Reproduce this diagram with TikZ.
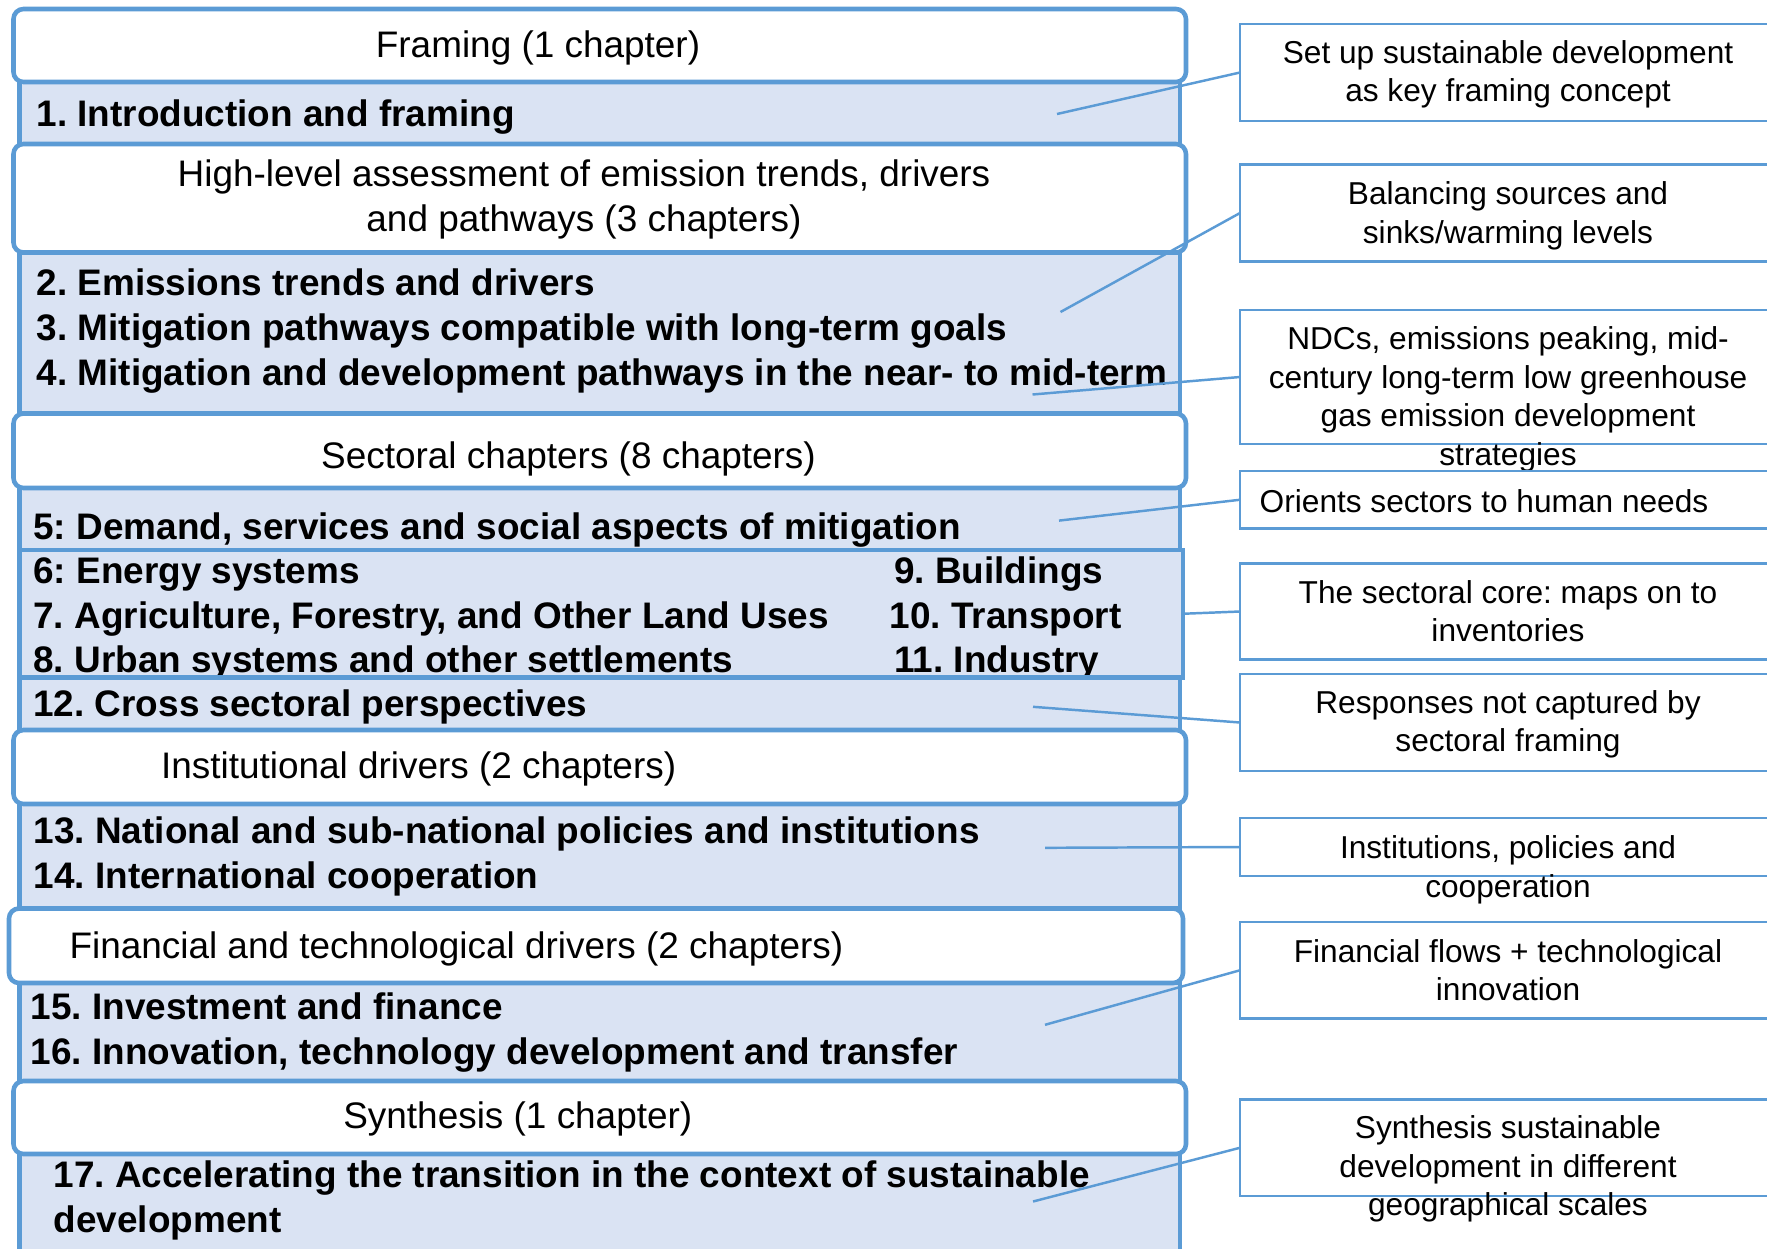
\documentclass[tikz,border=0pt]{standalone}
\usepackage{fontspec}
\setmainfont{Liberation Sans}
\usetikzlibrary{fit}
\definecolor{chapblue}{RGB}{91,155,213}
\definecolor{chapfill}{RGB}{218,227,243}

\begin{document}
\frenchspacing
\begin{tikzpicture}[x=0.01cm,y=-0.01cm,
  header/.style={draw=chapblue, line width=1.3pt, fill=white, rounded corners=1mm, inner sep=0pt, outer sep=0pt},
  band/.style={draw=chapblue, line width=1.2pt, fill=chapfill, inner sep=0pt, outer sep=0pt},
  note/.style={draw=chapblue, line width=0.6pt, fill=white, inner sep=0pt, outer sep=0pt},
  headtext/.style={font=\fontsize{10.5}{12.6}\selectfont, inner sep=0pt, anchor=base},
  chaptext/.style={font=\fontsize{10.5}{12.6}\selectfont\bfseries, inner sep=0pt, anchor=base west},
  notetext/.style={font=\fontsize{9}{10.8}\selectfont, inner sep=0pt, anchor=base},
  link/.style={draw=chapblue, line width=0.7pt}]

\useasboundingbox (0,0) rectangle (1767,1248);
\clip (0,0) rectangle (1767,1248);

% ---------- chapter bands ----------
\node[band, fit={(19.5,82) (1180,145)}] (b1) {};
\node[chaptext] (t1) at (36,126.5) {1. Introduction and framing};

\node[band, fit={(19.5,252.5) (1180,413.5)}] (b2) {};
\node[chaptext] (t2) at (36,295) {2. Emissions trends and drivers};
\node[chaptext] (t3) at (36,340) {3. Mitigation pathways compatible with long-term goals};
\node[chaptext] (t4) at (36,385) {4. Mitigation and development pathways in the near- to mid-term};

\node[band, fit={(19.5,488) (1180,550)}] (b3a) {};
\node[chaptext] (t5) at (32.7,539) {5: Demand, services and social aspects of mitigation};

\node[band, fit={(19.5,550) (1183,677.5)}] (b3b) {};
\node[chaptext] (t6) at (32.7,583.5) {6: Energy systems};
\node[chaptext] (t7) at (32.7,628) {7. Agriculture, Forestry, and Other Land Uses};
\node[chaptext] (t8) at (32.7,672) {8. Urban systems and other settlements};
\node[chaptext] (t9) at (893.5,583.5) {9. Buildings};
\node[chaptext] (t10) at (889,628) {10. Transport};
\node[chaptext] (t11) at (893.5,672) {11. Industry};

\node[band, fit={(19.5,677.5) (1180,730)}] (b3c) {};
\node[chaptext] (t12) at (32.7,716.5) {12. Cross sectoral perspectives};

\node[band, fit={(19.5,804) (1180,908.5)}] (b4) {};
\node[chaptext] (t13) at (33,843.5) {13. National and sub-national policies and institutions};
\node[chaptext] (t14) at (33,888.5) {14. International cooperation};

\node[band, fit={(19.5,983) (1180,1081)}] (b5) {};
\node[chaptext] (t15) at (30,1019.5) {15. Investment and finance};
\node[chaptext] (t16) at (30,1064.5) {16. Innovation, technology development and transfer};

\node[band, fit={(19.5,1154) (1180,1320)}] (b6) {};
\node[chaptext] (t17) at (53,1187) {17. Accelerating the transition in the context of sustainable};
\node[chaptext] (t17b) at (53,1232) {development};

% ---------- section headers ----------
\node[header, fit={(13.5,9) (1186,82)}] (h1) {};
\node[headtext] (ht1) at (538,57) {Framing (1 chapter)};

\node[header, fit={(13.5,144) (1186,252.5)}] (h2) {};
\node[headtext] (ht2a) at (584,186.5) {High-level assessment of emission trends, drivers};
\node[headtext] (ht2b) at (584,231.5) {and pathways (3 chapters)};

\node[header, fit={(13.5,413.5) (1186,488)}] (h3) {};
\node[headtext] (ht3) at (568.5,468) {Sectoral chapters (8 chapters)};

\node[header, fit={(13.5,730) (1186,804)}] (h4) {};
\node[headtext] (ht4) at (418.6,778) {Institutional drivers (2 chapters)};

\node[header, fit={(9,908.5) (1183,983)}] (h5) {};
\node[headtext] (ht5) at (456.4,958.5) {Financial and technological drivers (2 chapters)};

\node[header, fit={(13.5,1081) (1186,1154)}] (h6) {};
\node[headtext] (ht6) at (517.8,1128.6) {Synthesis (1 chapter)};

% ---------- side notes ----------
\node[note, fit={(1240,24) (1900,121)}] (c1) {};
\node[notetext] at (1508,63.3) {Set up sustainable development};
\node[notetext] at (1508,101.7) {as key framing concept};

\node[note, fit={(1240,164.5) (1900,261.5)}] (c2) {};
\node[notetext] at (1508,204.5) {Balancing sources and};
\node[notetext] at (1508,243) {sinks/warming levels};

\node[note, fit={(1240,310) (1900,444)}] (c3) {};
\node[notetext] at (1508,349.5) {NDCs, emissions peaking, mid-};
\node[notetext] at (1508,388) {century long-term low greenhouse};
\node[notetext] at (1508,426.5) {gas emission development};
\node[notetext] at (1508,465) {strategies};

\node[note, fit={(1240,471) (1900,528.5)}] (c4) {};
\node[notetext, anchor=base west] at (1259,512) {Orients sectors to human needs};

\node[note, fit={(1240,563.5) (1900,659.5)}] (c5) {};
\node[notetext] at (1508,603) {The sectoral core: maps on to};
\node[notetext] at (1508,641) {inventories};

\node[note, fit={(1240,674) (1900,771)}] (c6) {};
\node[notetext] at (1508,713) {Responses not captured by};
\node[notetext] at (1508,751.5) {sectoral framing};

\node[note, fit={(1240,818) (1900,876)}] (c7) {};
\node[notetext] at (1508,858.5) {Institutions, policies and};
\node[notetext] at (1508,897) {cooperation};

\node[note, fit={(1240,922) (1900,1018.5)}] (c8) {};
\node[notetext] at (1508,962) {Financial flows + technological};
\node[notetext] at (1508,1000.5) {innovation};

\node[note, fit={(1240,1099.5) (1900,1196)}] (c9) {};
\node[notetext] at (1508,1138.5) {Synthesis sustainable};
\node[notetext] at (1508,1177) {development in different};
\node[notetext] at (1508,1215.5) {geographical scales};

% ---------- leader lines ----------
\coordinate (p1) at (1057,114);
\coordinate (p2) at (1060.5,312);
\coordinate (p3) at (1032.5,394.5);
\coordinate (p4) at (1059,520.6);
\coordinate (p6) at (1033,706.8);
\coordinate (p7) at (1045,847.8);
\coordinate (p8) at (1045,1024.8);
\coordinate (p9) at (1033,1201.5);

\draw[link] (p1) -- (c1.west);
\draw[link] (p2) -- (c2.west);
\draw[link] (p3) -- (c3.west);
\draw[link] (p4) -- (c4.west);
\draw[link] (b3b.east) -- (c5.west);
\draw[link] (p6) -- (c6.west);
\draw[link] (p7) -- (c7.west);
\draw[link] (p8) -- (c8.west);
\draw[link] (p9) -- (c9.west);

\end{tikzpicture}
\end{document}
